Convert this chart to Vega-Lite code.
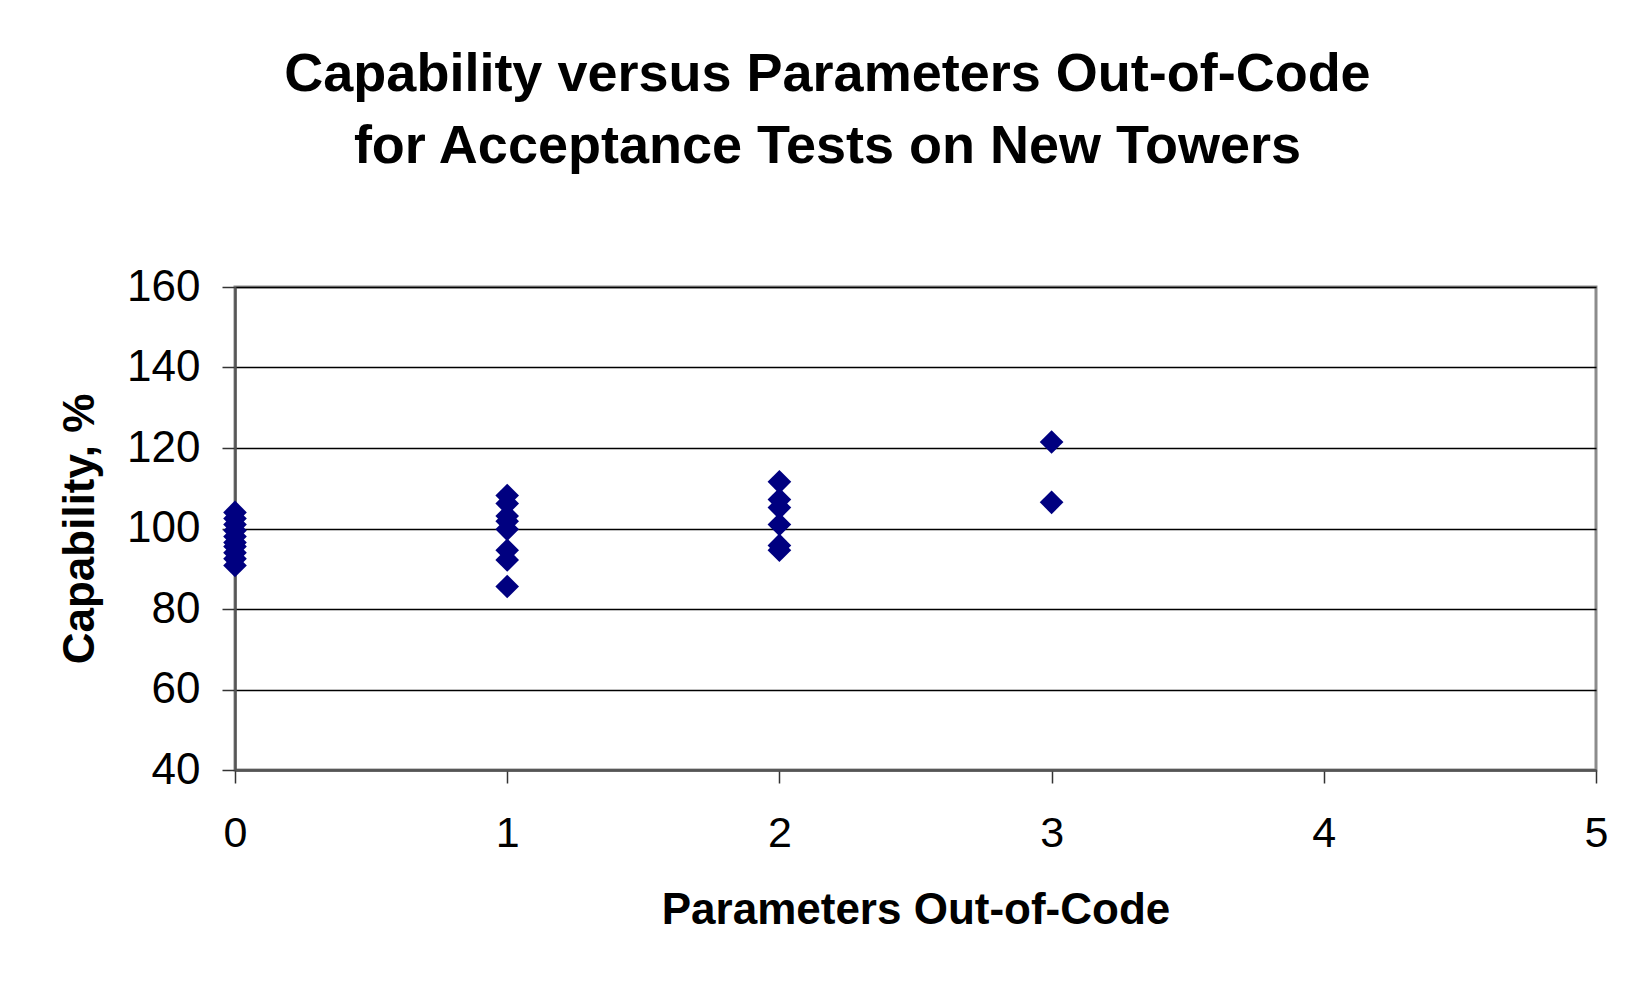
{
  "$schema": "https://vega.github.io/schema/vega-lite/v6.json",
  "autosize": "none",
  "width": 1361,
  "height": 483,
  "padding": {"left": 235, "top": 287, "right": 37, "bottom": 215},
  "background": "white",
  "config": {
    "font": "Liberation Sans",
    "view": {"stroke": "#8c8c8c", "strokeWidth": 3},
    "axis": {"grid": false}
  },
  "title": {
    "text": ["Capability versus Parameters Out-of-Code", "for Acceptance Tests on New Towers"],
    "font": "Liberation Sans",
    "fontSize": 54,
    "fontWeight": "bold",
    "color": "black",
    "lineHeight": 72,
    "anchor": "middle",
    "frame": "group",
    "dx": -88,
    "offset": 91
  },
  "data": {
    "values": [
      {"params": 0, "capability": 104},
      {"params": 0, "capability": 102.5},
      {"params": 0, "capability": 101},
      {"params": 0, "capability": 99.5},
      {"params": 0, "capability": 98},
      {"params": 0, "capability": 96.5},
      {"params": 0, "capability": 95.5},
      {"params": 0, "capability": 94},
      {"params": 0, "capability": 92.5},
      {"params": 0, "capability": 90.8},
      {"params": 1, "capability": 108.2},
      {"params": 1, "capability": 106.2},
      {"params": 1, "capability": 103.1},
      {"params": 1, "capability": 101.8},
      {"params": 1, "capability": 99.8},
      {"params": 1, "capability": 94.6},
      {"params": 1, "capability": 92.2},
      {"params": 1, "capability": 85.6},
      {"params": 2, "capability": 111.6},
      {"params": 2, "capability": 107.2},
      {"params": 2, "capability": 105.2},
      {"params": 2, "capability": 101},
      {"params": 2, "capability": 95.8},
      {"params": 2, "capability": 94.6},
      {"params": 3, "capability": 121.5},
      {"params": 3, "capability": 106.5}
    ]
  },
  "layer": [
    {
      "mark": {"type": "point", "shape": "diamond", "filled": true, "size": 560, "color": "#000080", "opacity": 1},
      "encoding": {
        "x": {
          "field": "params",
          "type": "quantitative",
          "scale": {"domain": [0, 5], "nice": false, "zero": false},
          "axis": {
            "title": "Parameters Out-of-Code",
            "values": [0, 1, 2, 3, 4, 5],
            "format": "d",
            "grid": false,
            "domainColor": "#555555",
            "domainWidth": 2.5,
            "tickColor": "#333333",
            "tickWidth": 1.5,
            "tickSize": 13,
            "labelFont": "Liberation Sans",
            "labelFontSize": 43,
            "labelColor": "black",
            "labelPadding": 29,
            "labelFlush": false,
            "titleFont": "Liberation Sans",
            "titleFontSize": 44,
            "titleFontWeight": "bold",
            "titleColor": "black",
            "titlePadding": 33
          }
        },
        "y": {
          "field": "capability",
          "type": "quantitative",
          "scale": {"domain": [40, 160], "nice": false, "zero": false},
          "axis": {
            "title": "Capability, %",
            "values": [40, 60, 80, 100, 120, 140, 160],
            "grid": true,
            "gridColor": "black",
            "gridWidth": 1.3,
            "domainColor": "#555555",
            "domainWidth": 2.5,
            "tickColor": "#333333",
            "tickWidth": 1.5,
            "tickSize": 13,
            "labelFont": "Liberation Sans",
            "labelFontSize": 44,
            "labelColor": "black",
            "labelPadding": 22,
            "labelFlush": false,
            "titleFont": "Liberation Sans",
            "titleFontSize": 44,
            "titleFontWeight": "bold",
            "titleColor": "black",
            "titlePadding": 24
          }
        }
      }
    }
  ]
}
